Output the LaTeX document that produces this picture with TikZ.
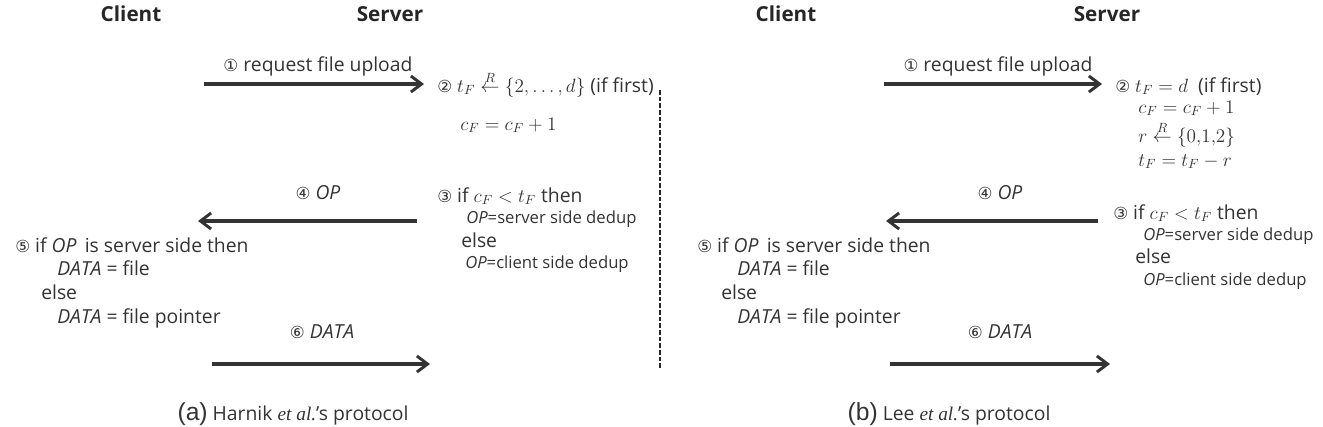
\documentclass[tikz,border=0pt]{standalone}
\usepackage{fontspec}
\setmainfont{Open Sans}
\newfontfamily\circfont{DejaVu Sans}
\newfontfamily\capfont{Liberation Sans}
\newfontfamily\serifit{Liberation Serif}
\usetikzlibrary{arrows.meta}
\newcommand{\cn}[1]{{\circfont\fontsize{12.5}{14}\selectfont #1}}
\tikzset{
  msg/.style={draw=black!80, line width=2.4pt, -{Straight Barb[length=8pt,width=12pt,line width=2.2pt]}},
  txt/.style={anchor=base west, inner sep=0pt, text=black!80, font=\fontsize{14.5}{16}\selectfont},
  sml/.style={anchor=base west, inner sep=0pt, text=black!80, font=\fontsize{12.5}{14}\selectfont},
  lbl/.style={anchor=base, inner sep=0pt, text=black!80, font=\fontsize{14.5}{16}\selectfont},
  head/.style={anchor=base, inner sep=0pt, text=black!85, font=\bfseries\fontsize{15.5}{17}\selectfont},
  capt/.style={anchor=base, inner sep=0pt, text=black!80, font=\fontsize{14.5}{16}\selectfont},
}
\begin{document}
\begin{tikzpicture}[x=0.75pt,y=-0.75pt]
\useasboundingbox (0,0) rectangle (1323,426);
% ---------- panel (a) ----------
\node[head] (ca) at (131,21) {Client};
\node[head] (sa) at (390,21) {Server};
\coordinate (a1s) at (204,84); \coordinate (a1e) at (424,84);
\draw[msg] (a1s) -- (a1e);
\node[lbl] (a1l) at (318,71) {\cn{①} request file upload};
\node[txt] (a2) at (437,92) {\cn{②} $t_F\stackrel{R}{\leftarrow}\{2,\ldots,d\}$ (if first)};
\node[txt] (a2b) at (460,130) {$c_F=c_F+1$};
\coordinate (a4s) at (417,221); \coordinate (a4e) at (198,221);
\draw[msg] (a4s) -- (a4e);
\node[lbl] (a4l) at (318,199) {\cn{④} \textit{OP}};
\node[txt] (a3) at (437,202) {\cn{③} if $c_F<t_F$ then};
\node[sml] (a3a) at (466,223) {\textit{OP}=server side dedup};
\node[txt] (a3b) at (461,247) {else};
\node[sml] (a3c) at (465,268) {\textit{OP}=client side dedup};
\node[txt] (a5) at (15,252) {\cn{⑤} if \textit{OP}\, is server side then};
\node[txt] (a5a) at (57,275) {\textit{DATA} = file};
\node[txt] (a5b) at (41,299) {else};
\node[txt] (a5c) at (57,323) {\textit{DATA} = file pointer};
\coordinate (a6s) at (212,364); \coordinate (a6e) at (430,364);
\draw[msg] (a6s) -- (a6e);
\node[lbl] (a6l) at (322,338) {\cn{⑥} \textit{DATA}};
\coordinate (dt) at (660,90); \coordinate (db) at (660,370);
\draw[black!85, line width=1.6pt, dash pattern=on 3.5pt off 1.5pt] (dt) -- (db);
\node[capt] (capa) at (293,420) {{\capfont\fontsize{18.5}{20}\selectfont(a)} Harnik {\serifit\itshape et al.}'s protocol};
% ---------- panel (b) ----------
\node[head] (cb) at (786,21) {Client};
\node[head] (sb) at (1107,21) {Server};
\coordinate (b1s) at (884,84); \coordinate (b1e) at (1102,84);
\draw[msg] (b1s) -- (b1e);
\node[lbl] (b1l) at (998,71) {\cn{①} request file upload};
\node[txt] (b2) at (1115,92) {\cn{②} $t_F=d$ \ (if first)};
\node[txt] (b2a) at (1138,113) {$c_F=c_F+1$};
\node[txt] (b2b) at (1138,142) {$r\stackrel{R}{\leftarrow}\{0{,}1{,}2\}$};
\node[txt] (b2c) at (1138,166) {$t_F=t_F-r$};
\coordinate (b4s) at (1098,221); \coordinate (b4e) at (886,221);
\draw[msg] (b4s) -- (b4e);
\node[lbl] (b4l) at (1000,199) {\cn{④} \textit{OP}};
\node[txt] (b3) at (1113,219) {\cn{③} if $c_F<t_F$ then};
\node[sml] (b3a) at (1143,240) {\textit{OP}=server side dedup};
\node[txt] (b3b) at (1135,263) {else};
\node[sml] (b3c) at (1143,285) {\textit{OP}=client side dedup};
\node[txt] (b5) at (697,252) {\cn{⑤} if \textit{OP}\, is server side then};
\node[txt] (b5a) at (737,275) {\textit{DATA} = file};
\node[txt] (b5b) at (721,299) {else};
\node[txt] (b5c) at (737,323) {\textit{DATA} = file pointer};
\coordinate (b6s) at (890,364); \coordinate (b6e) at (1110,364);
\draw[msg] (b6s) -- (b6e);
\node[lbl] (b6l) at (1000,338) {\cn{⑥} \textit{DATA}};
\node[capt] (capb) at (949,420) {{\capfont\fontsize{18.5}{20}\selectfont(b)} Lee {\serifit\itshape et al.}'s protocol};
\end{tikzpicture}
\end{document}
